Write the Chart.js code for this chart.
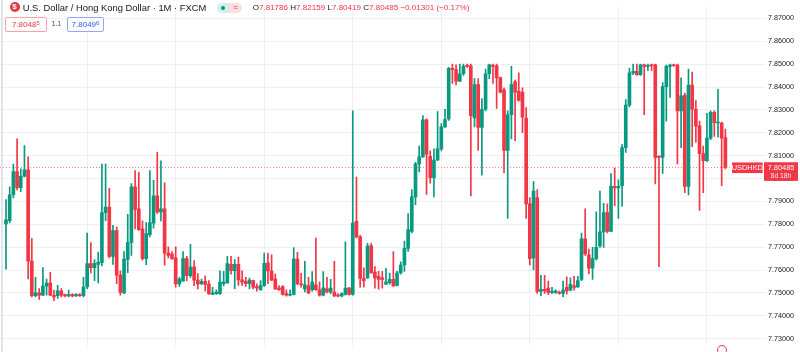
<!DOCTYPE html>
<html><head><meta charset="utf-8">
<script src="https://cdn.jsdelivr.net/npm/chart.js@4.4.1/dist/chart.umd.min.js"></script>
<style>
html,body{margin:0;padding:0;background:#fff;}
#wrap{position:relative;width:800px;height:352px;overflow:hidden;font-family:"Liberation Sans",Arial,sans-serif;color:#131722;}
#c{position:absolute;left:0;top:0;}
.ov{position:absolute;white-space:nowrap;}
#lstrip{position:absolute;left:1px;top:0;width:2px;height:352px;background:#e0e3eb;}
#logo{left:9.5px;top:2px;width:10px;height:10px;border-radius:50%;background:#e0383e;color:#fff;font-size:8px;line-height:10px;text-align:center;font-weight:bold;}
#title{left:22.7px;top:1.5px;font-size:9px;line-height:11px;color:#131722;}
#pill{left:216.7px;top:2.7px;width:25px;height:10px;border-radius:5px;overflow:hidden;display:flex;}
#pill .g{width:12.5px;height:10px;background:rgba(8,153,129,0.16);position:relative;}
#pill .g i{position:absolute;left:4.5px;top:3px;width:4px;height:4px;border-radius:50%;background:#089981;}
#pill .r{width:12.5px;height:10px;background:rgba(242,54,69,0.16);color:#f23645;font-size:8px;line-height:10px;text-align:center;}
#ohlc{left:252.7px;top:2px;font-size:8.5px;line-height:11px;color:#131722;}
#ohlc b{font-weight:normal;color:#f23645;}
.box{position:absolute;top:16.7px;height:13px;border:1px solid;border-radius:2px;background:#fff;font-size:8px;line-height:13px;text-align:center;}
#bred{left:5px;width:39.7px;border-color:#f7a1a8;color:#f23645;}
#bblue{left:66.7px;width:35.6px;border-color:#8fa9ff;color:#2962ff;}
.box sup{font-size:6px;vertical-align:2px;line-height:0;}
#ratio{left:51.5px;top:19px;font-size:7px;line-height:10px;color:#50535e;}
#mark{left:717px;top:345px;width:8px;height:8px;border:1.5px solid #f23645;border-radius:50%;}
</style></head><body>
<div id="wrap">
<canvas id="c" width="800" height="352"></canvas>
<div id="lstrip"></div>
<div class="ov" id="logo">$</div>
<div class="ov" id="title">U.S. Dollar / Hong Kong Dollar · 1M · FXCM</div>
<div class="ov" id="pill"><div class="g"><i></i></div><div class="r">≈</div></div>
<div class="ov" id="ohlc">O<b>7.81786</b> H<b>7.82159</b> L<b>7.80419</b> C<b>7.80485</b> <b>−0.01301 (−0.17%)</b></div>
<div class="box" id="bred">7.8048<sup>5</sup></div>
<div class="ov" id="ratio">1.1</div>
<div class="box" id="bblue">7.8049<sup>6</sup></div>
<div class="ov" id="mark"></div>
</div>
<script>
// ---- data (monthly OHLC) ----
const open = [7.7802,7.7816,7.7929,7.8031,7.7960,7.8010,7.8038,7.7639,7.7488,7.7500,
7.7490,7.7530,7.7543,7.7490,7.7488,7.7509,7.7493,7.7487,7.7493,7.7487,
7.7493,7.7488,7.7526,7.7628,7.7611,7.7625,7.7632,7.7851,7.7875,7.7660,
7.7773,7.7578,7.7500,7.7646,7.7721,7.7964,7.7868,7.7780,7.7650,7.7755,
7.7805,7.7924,7.7854,7.7868,7.7674,7.7670,7.7653,7.7539,7.7551,7.7650,
7.7575,7.7613,7.7556,7.7539,7.7551,7.7539,7.7494,7.7497,7.7497,7.7540,
7.7544,7.7625,7.7597,7.7625,7.7557,7.7551,7.7540,7.7554,7.7528,7.7514,
7.7532,7.7631,7.7596,7.7561,7.7521,7.7528,7.7497,7.7490,7.7494,7.7648,
7.7540,7.7518,7.7532,7.7514,7.7535,7.7514,7.7490,7.7518,7.7504,7.7504,
7.7487,7.7487,7.7494,7.7521,7.7494,7.7813,7.7745,7.7563,7.7566,7.7706,
7.7591,7.7573,7.7566,7.7538,7.7545,7.7559,7.7533,7.7587,7.7622,7.7695,
7.7769,7.7920,7.8064,7.8095,7.8257,7.8097,7.8004,7.8081,7.8130,7.8226,
7.8261,7.8482,7.8476,7.8426,7.8458,7.8493,7.8493,7.8265,7.8411,7.8223,
7.8303,7.8458,7.8493,7.8493,7.8441,7.8388,7.8123,7.8279,7.8423,7.8381,
7.8377,7.8264,7.7889,7.7653,7.7917,7.7507,7.7516,7.7521,7.7501,7.7501,
7.7502,7.7498,7.7524,7.7512,7.7531,7.7526,7.7559,7.7737,7.7667,7.7608,
7.7650,7.7706,7.7767,7.7851,7.7769,7.7966,7.7959,7.7969,7.8135,7.8321,
7.8462,7.8469,7.8454,7.8497,7.8490,7.8497,7.8497,7.8097,7.8092,7.8402,
7.8490,7.8496,7.8496,7.8296,7.8364,7.7966,7.8409,7.8303,7.8230,7.8109,
7.8078,7.8177,7.8289,7.8243,7.8243,7.81786];
const high = [7.7908,7.7964,7.8063,7.8174,7.8042,7.8144,7.8095,7.7738,7.7568,7.7519,
7.7611,7.7561,7.7590,7.7512,7.7533,7.7519,7.7495,7.7512,7.7497,7.7497,
7.7497,7.7568,7.7762,7.7720,7.7646,7.7679,7.8063,7.8063,7.7957,7.7795,
7.7788,7.7597,7.7681,7.7844,7.7978,7.8035,7.8028,7.7815,7.7808,7.8035,
7.7992,7.8115,7.8077,7.7981,7.7702,7.7681,7.7702,7.7568,7.7681,7.7660,
7.7712,7.7641,7.7585,7.7561,7.7575,7.7554,7.7525,7.7514,7.7597,7.7594,
7.7660,7.7660,7.7646,7.7657,7.7597,7.7568,7.7565,7.7556,7.7540,7.7554,
7.7674,7.7674,7.7667,7.7582,7.7532,7.7532,7.7514,7.7514,7.7698,7.7678,
7.7586,7.7638,7.7568,7.7593,7.7740,7.7549,7.7593,7.7568,7.7559,7.7638,
7.7497,7.7500,7.7723,7.7525,7.8296,7.8006,7.7752,7.7610,7.7717,7.7717,
7.7615,7.7594,7.7594,7.7608,7.7587,7.7681,7.7594,7.7636,7.7727,7.7847,
7.7952,7.8071,7.8142,7.8275,7.8261,7.8121,7.8130,7.8293,7.8240,7.8303,
7.8486,7.8500,7.8497,7.8500,7.8500,7.8500,7.8500,7.8437,7.8437,7.8350,
7.8479,7.8500,7.8500,7.8500,7.8444,7.8395,7.8296,7.8490,7.8430,7.8462,
7.8397,7.8310,7.7917,7.7987,7.7952,7.7577,7.7577,7.7552,7.7524,7.7514,
7.7509,7.7552,7.7570,7.7566,7.7573,7.7573,7.7762,7.7868,7.7692,7.7699,
7.7854,7.7945,7.7892,7.7889,7.8022,7.8046,7.7994,7.8149,7.8345,7.8482,
7.8500,7.8500,7.8500,7.8500,7.8500,7.8500,7.8500,7.8100,7.8420,7.8496,
7.8500,7.8500,7.8500,7.8440,7.8374,7.8479,7.8465,7.8341,7.8251,7.8142,
7.8285,7.8296,7.8296,7.8390,7.8247,7.82159];
const low = [7.7604,7.7806,7.7915,7.7950,7.7943,7.8007,7.7561,7.7483,7.7483,7.7472,
7.7488,7.7490,7.7488,7.7466,7.7476,7.7483,7.7483,7.7483,7.7483,7.7485,
7.7485,7.7483,7.7519,7.7587,7.7554,7.7544,7.7618,7.7816,7.7653,7.7625,
7.7540,7.7490,7.7497,7.7589,7.7664,7.7780,7.7773,7.7643,7.7624,7.7745,
7.7783,7.7848,7.7815,7.7621,7.7653,7.7646,7.7525,7.7528,7.7551,7.7554,
7.7568,7.7532,7.7518,7.7537,7.7508,7.7494,7.7493,7.7494,7.7494,7.7531,
7.7543,7.7582,7.7519,7.7533,7.7533,7.7529,7.7518,7.7518,7.7508,7.7511,
7.7529,7.7540,7.7554,7.7515,7.7511,7.7490,7.7486,7.7487,7.7491,7.7535,
7.7525,7.7504,7.7497,7.7508,7.7511,7.7486,7.7487,7.7500,7.7497,7.7484,
7.7483,7.7483,7.7490,7.7490,7.7490,7.7740,7.7525,7.7525,7.7563,7.7587,
7.7521,7.7516,7.7521,7.7536,7.7538,7.7529,7.7531,7.7582,7.7594,7.7681,
7.7762,7.7886,7.8029,7.8092,7.7931,7.7980,7.7920,7.8078,7.8121,7.8224,
7.8254,7.8416,7.8409,7.8423,7.8451,7.8486,7.7924,7.8226,7.8123,7.8015,
7.8296,7.8437,7.8416,7.8307,7.8374,7.8026,7.7826,7.8173,7.8166,7.8338,
7.8201,7.7826,7.7622,7.7601,7.7498,7.7488,7.7498,7.7493,7.7498,7.7498,
7.7495,7.7484,7.7495,7.7509,7.7512,7.7524,7.7554,7.7664,7.7583,7.7559,
7.7643,7.7699,7.7699,7.7762,7.7769,7.7882,7.7826,7.7878,7.8114,7.8313,
7.8454,7.8451,7.8451,7.8279,7.8472,7.8472,7.7976,7.7615,7.8022,7.8251,
7.8355,7.8490,7.8064,7.8135,7.7938,7.7928,7.8139,7.8159,7.7861,7.7938,
7.8074,7.8170,7.8184,7.8181,7.7969,7.80419];
const close = [7.7820,7.7929,7.8031,7.7960,7.8010,7.8038,7.7639,7.7488,7.7500,7.7490,
7.7530,7.7543,7.7490,7.7483,7.7509,7.7490,7.7487,7.7493,7.7487,7.7493,
7.7488,7.7526,7.7628,7.7611,7.7629,7.7635,7.7851,7.7875,7.7660,7.7773,
7.7578,7.7502,7.7648,7.7721,7.7964,7.7865,7.7777,7.7650,7.7759,7.7808,
7.7924,7.7854,7.7868,7.7674,7.7664,7.7650,7.7539,7.7561,7.7650,7.7575,
7.7613,7.7556,7.7539,7.7551,7.7537,7.7497,7.7500,7.7504,7.7547,7.7547,
7.7628,7.7597,7.7625,7.7557,7.7547,7.7540,7.7556,7.7525,7.7522,7.7532,
7.7629,7.7596,7.7556,7.7518,7.7514,7.7494,7.7490,7.7494,7.7648,7.7540,
7.7535,7.7535,7.7500,7.7547,7.7514,7.7490,7.7522,7.7504,7.7521,7.7487,
7.7486,7.7497,7.7521,7.7494,7.7805,7.7745,7.7563,7.7554,7.7706,7.7587,
7.7566,7.7559,7.7559,7.7549,7.7559,7.7531,7.7587,7.7622,7.7695,7.7776,
7.7920,7.8064,7.8095,7.8257,7.8107,7.8004,7.8081,7.8130,7.8226,7.8258,
7.8482,7.8476,7.8426,7.8458,7.8490,7.8490,7.8275,7.8411,7.8223,7.8303,
7.8458,7.8497,7.8490,7.8440,7.8378,7.8123,7.8279,7.8411,7.8378,7.8341,
7.8268,7.7889,7.7650,7.7945,7.7507,7.7516,7.7509,7.7502,7.7507,7.7509,
7.7498,7.7512,7.7509,7.7538,7.7524,7.7554,7.7737,7.7671,7.7608,7.7650,
7.7699,7.7767,7.7851,7.7769,7.7966,7.7959,7.7966,7.8135,7.8321,7.8462,
7.8469,7.8454,7.8497,7.8490,7.8493,7.8493,7.8092,7.8092,7.8402,7.8490,
7.8496,7.8493,7.8296,7.8362,7.7966,7.8409,7.8303,7.8229,7.8109,7.8078,
7.8177,7.8289,7.8244,7.8247,7.8177,7.80485];
const priceTicks = [7.73,7.74,7.75,7.76,7.77,7.78,7.79,7.80,7.81,7.82,7.83,7.84,7.85,7.86,7.87];
const yearGridIdx = [10,34,58,82,106,130,154,178,202];
const symbolName = "USDHKD";
const countdown = "8d 18h";

// ---- styling ----
const GREEN = '#089981', RED = '#f23645', GRID = 'rgba(42,46,57,0.07)';
const FONT = '"Liberation Sans", Arial, sans-serif';

const idx = open.map((_, i) => i);
const cols = idx.map(i => close[i] >= open[i] ? GREEN : RED);
const lastClose = close[close.length - 1];

const priceLine = {
  id: 'priceLine',
  beforeDatasetsDraw(chart) {
    const {ctx, chartArea, scales} = chart;
    const y = Math.round(scales.y.getPixelForValue(lastClose)) + 0.5;
    ctx.save();
    ctx.strokeStyle = 'rgba(242,54,69,0.6)';
    ctx.lineWidth = 1;
    ctx.setLineDash([1, 2]);
    ctx.beginPath(); ctx.moveTo(chartArea.left, y); ctx.lineTo(chartArea.right, y); ctx.stroke();
    ctx.restore();
  },
  afterDraw(chart) {
    const {ctx, chartArea, scales} = chart;
    const y = scales.y.getPixelForValue(lastClose);
    ctx.save();
    // symbol tag
    ctx.fillStyle = RED;
    ctx.fillRect(chartArea.right - 31, y - 5, 30.6, 10.6);
    ctx.fillStyle = '#fff';
    ctx.font = '7.4px ' + FONT;
    ctx.textAlign = 'center'; ctx.textBaseline = 'middle';
    ctx.fillText(symbolName, chartArea.right - 15.7, y + 0.5);
    // price tag
    ctx.fillStyle = RED;
    ctx.fillRect(chartArea.right + 1, y - 5.2, 34, 18.6);
    ctx.fillStyle = '#fff';
    ctx.font = '7.4px ' + FONT;
    ctx.fillText(lastClose.toFixed(5), chartArea.right + 18, y + 0.3);
    ctx.fillStyle = 'rgba(255,255,255,0.9)';
    ctx.font = '6.8px ' + FONT;
    ctx.fillText(countdown, chartArea.right + 18, y + 8.8);
    ctx.restore();
  }
};

new Chart(document.getElementById('c'), {
  type: 'bar',
  data: {
    datasets: [
      { label: 'wick', data: idx.map(i => ({x: i, y: [low[i], high[i]]})),
        backgroundColor: cols, barThickness: 1, grouped: false, borderWidth: 0, minBarLength: 1, order: 2 },
      { label: 'body', data: idx.map(i => ({x: i, y: [open[i], close[i]]})),
        backgroundColor: cols, barThickness: 3, grouped: false, borderWidth: 0, minBarLength: 1, order: 1 }
    ]
  },
  options: {
    responsive: false, animation: false, devicePixelRatio: 1,
    layout: {padding: 0},
    plugins: {legend: {display: false}, tooltip: {enabled: false}},
    scales: {
      x: {
        type: 'linear', min: -1.626, max: 205.2, offset: false,
        grid: {color: GRID, drawTicks: false}, border: {display: false},
        ticks: {display: false},
        afterBuildTicks: s => { s.ticks = yearGridIdx.map(v => ({value: v})); },
        afterFit: s => { s.height = 0; }
      },
      y: {
        position: 'right', min: 7.72695, max: 7.87528,
        grid: {color: GRID, tickLength: 3, tickColor: GRID}, border: {display: false},
        ticks: {color: '#131722', padding: 2, font: {size: 7.2, family: FONT},
                callback: v => Number(v).toFixed(5)},
        afterBuildTicks: s => { s.ticks = priceTicks.map(v => ({value: v})); },
        afterFit: s => { s.width = 37; }
      }
    }
  },
  plugins: [priceLine]
});

// fit header texts to the measured widths
function fit(id, target) {
  const el = document.getElementById(id);
  const fs = parseFloat(getComputedStyle(el).fontSize);
  const w = el.getBoundingClientRect().width;
  el.style.fontSize = (fs * target / w) + 'px';
}
fit('title', 184);
fit('ohlc', 217);
</script>
</body></html>
